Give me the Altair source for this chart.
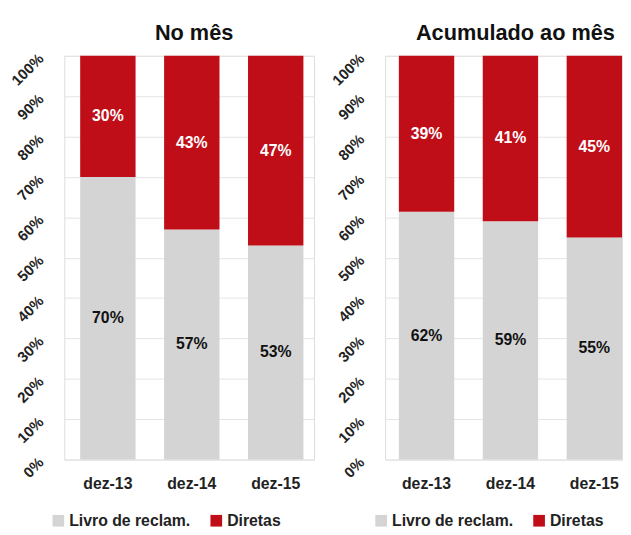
import altair as alt
import pandas as pd

periods = ["dez-13", "dez-14", "dez-15"]
series = ["Livro de reclam.", "Diretas"]
mes_livro = [70, 57, 53]
mes_diretas = [30, 43, 47]
acum_livro = [62, 59, 55]
acum_diretas = [39, 41, 45]

RED = "#c00e18"
GRAY = "#d4d4d4"
FONT = "Liberation Sans"


def build_df(livro, diretas):
    rows = []
    for p, l, d in zip(periods, livro, diretas):
        tot = l + d
        rows.append({"period": p, "series": series[0], "value": l, "order": 0,
                     "mid": (l / 2) / tot, "label": f"{l}%", "tcolor": "#111"})
        rows.append({"period": p, "series": series[1], "value": d, "order": 1,
                     "mid": (l + d / 2) / tot, "label": f"{d}%", "tcolor": "white"})
    return pd.DataFrame(rows)


def panel(livro, diretas, title, width, pad_outer, align, legend_x, title_dx):
    df = build_df(livro, diretas)
    base = alt.Chart(df)
    x = alt.X("period:N", sort=periods, title=None,
              scale=alt.Scale(paddingInner=0.34, paddingOuter=pad_outer, align=align),
              axis=alt.Axis(labelAngle=0, labelFontSize=16, labelFontWeight="bold",
                            labelColor="#222", labelFont=FONT, ticks=False, domain=False,
                            labelPadding=16))
    bars = base.mark_bar().encode(
        x=x,
        y=alt.Y("value:Q", stack="normalize", title=None,
                scale=alt.Scale(domain=[0, 1]),
                axis=alt.Axis(format=".0%", values=[i / 10 for i in range(11)],
                              labelAngle=-45, labelAlign="right", labelBaseline="middle",
                              labelFontSize=15, labelFontWeight="bold",
                              labelColor="#222", labelFont=FONT, ticks=False, domain=False,
                              gridColor="#e4e4e4", labelPadding=24,
                              minExtent=54, maxExtent=54)),
        color=alt.Color("series:N", sort=series,
                        scale=alt.Scale(domain=series, range=[GRAY, RED]),
                        legend=alt.Legend(orient="none", legendX=legend_x, legendY=463,
                                          direction="horizontal", title=None,
                                          symbolType="square",
                                          symbolSize=140, labelFontSize=16,
                                          labelFontWeight="bold", labelFont=FONT,
                                          labelColor="#222", columnPadding=18,
                                          labelOffset=3, symbolStrokeWidth=0)),
        order=alt.Order("order:Q"),
    )
    text = base.mark_text(fontSize=16, fontWeight="bold", font=FONT).encode(
        x=alt.X("period:N", sort=periods),
        y=alt.Y("mid:Q"),
        text="label:N",
        color=alt.Color("tcolor:N", scale=None),
    )
    return alt.layer(bars, text).properties(
        width=width, height=409,
        title=alt.TitleParams(title, fontSize=22, fontWeight="bold", font=FONT,
                              color="#111", anchor="middle", offset=6, dx=title_dx),
    )


left = panel(mes_livro, mes_diretas, "No mês", 253, 0.158, 0.6, -14, 5)
right = panel(acum_livro, acum_diretas, "Acumulado ao mês", 240, 0.082, 1.0, -12, 12)

chart = alt.hconcat(left, right, spacing=14).resolve_scale(
    color="independent"
).resolve_legend(color="independent").properties(
    padding={"top": 10, "left": 0, "right": 0, "bottom": 0}
).configure_view(stroke=None).configure(background="white")

chart.save("out.html", embed_options={"renderer": "svg", "actions": False})
